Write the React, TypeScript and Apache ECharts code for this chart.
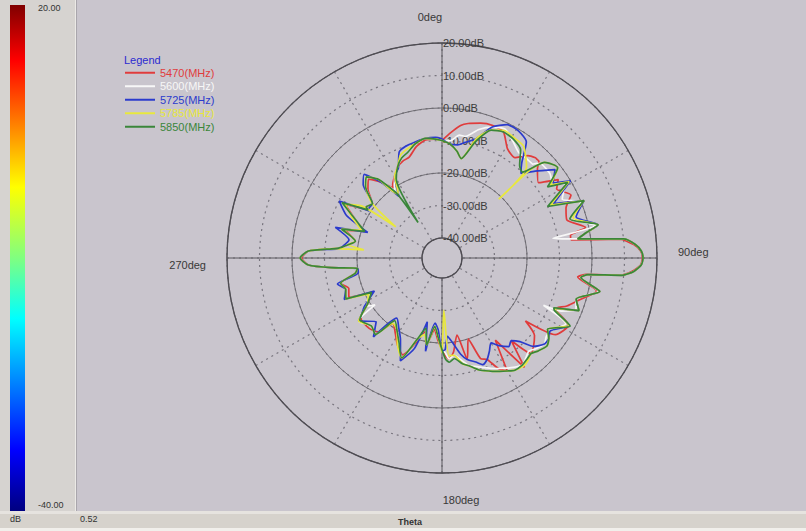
import React, { useEffect, useRef } from 'react';
import * as echarts from 'echarts';

const FONT = 'Liberation Sans, Arial, sans-serif';

// Shared angle vertices (deg, clockwise from top)
const angles = [
  0, 4, 8, 11, 16, 21, 26, 31, 36, 40,
  43, 44, 45, 47, 52, 56, 59, 64, 68, 73,
  78, 80, 82, 84, 86, 88, 90, 92, 94, 95.5,
  96.5, 98, 102, 107, 111, 114, 115, 118, 124, 127,
  130, 134, 137, 140, 143, 147, 150, 153, 156, 159,
  162, 166, 169, 173, 176, 178, 180, 183, 186, 190,
  193, 197, 202, 207, 212, 217, 221, 226, 233, 235,
  238, 244, 247, 252, 256, 260, 263, 265, 267, 270,
  273, 275, 276, 278, 281, 286, 289, 294, 299, 303,
  304, 308, 313, 317, 321, 325, 326, 330, 334, 338,
  342, 347, 352, 357, 360,
];

// Gain values in dB per frequency
const gain5470 = [
  -10, -7.5, -5, -4, -3, -2.5, -3, -7, -8, -5,
  -4, -4, -4, -6, -8.5, -3, -5, -2, -5, -6,
  -1, -6, -6, 9, 13, 15, 15.5, 15, 12.5, 9,
  -1.5, -4, 2.5, -2, -5, -8, -7, -2, -4, -14,
  -9, -7, -6, -13, -4, -16, -6, -8, -12, -13,
  -20, -14, -22, -17, -15, -16, -18, -21, -24, -19,
  -23, -19, -14, -16, -19, -21, -16, -15, -15, -16,
  -19, -22, -15, -16, -14, -19, -20, -12, -5, -3,
  -5, -13, -15, -17, -19, -15, -21, -17, -12, -19,
  -18, -19, -15, -13, -16, -20, -19, -17, -15, -14,
  -13.5, -11, -9.5, -9.5, -10,
];
const gain5600 = [
  -10, -10, -8, -8, -5, -3, -2, -4, -6, -6,
  -6, -6, -5, -4, -4, -5, -2, -5, 0, -4,
  2, -11.5, -4, 10, 13.5, 15.2, 15.7, 15.2, 13, 9.5,
  -1, -3, 3, -3, -2, -6, -11.7, -3, -6, -6,
  -5, -6, -7, -6, -5, -6, -7, -8, -9, -10,
  -11, -12, -14, -16, -15, -17, -18, -22, -25, -18,
  -24, -20, -13, -17, -20, -22, -15, -16, -14, -21,
  -18, -22, -14, -15, -14, -19, -20, -12, -5, -2.5,
  -5, -13, -15, -17, -19, -14, -21, -17, -11, -19,
  -18, -19, -14, -12, -15, -21, -20, -17, -15, -13,
  -12, -10, -9, -9.5, -10,
];
const gain5725 = [
  -9.5, -11, -11, -10, -8, -3, -0.5, -0.5, -2, -8,
  -10.5, -10, -9, -7, -2, -5, 0, -8, 1, -3,
  3, -1, -4, 10, 13.5, 15.2, 15.7, 15.2, 13, 9.5,
  -1, -3, 3.5, -3, -1, -8, -7.5, -2, -6, -5,
  -5, -7, -11, -13, -12, -14, -16, -14, -12, -11,
  -12.5, -14, -16, -20, -22, -18, -17.5, -24, -26, -17,
  -26, -17, -12, -18, -21, -23, -14, -18, -14, -16,
  -18, -23, -13.5, -15, -13, -20, -20, -12, -5, -2.5,
  -5, -14, -15, -16, -17, -12, -22, -14, -10, -19.5,
  -19, -19, -13, -11, -16, -23, -22, -17, -15.5, -11,
  -10, -9.5, -9, -9, -9.5,
];
const gain5785 = [
  -10, -11, -13, -15, -8, -4, -2.5, -3, -3.5, -6,
  -8, -21, -8, -3, -1, -6, -0.5, -9, 1, -4,
  3, -1, -4, 10, 13.5, 15.2, 15.7, 15.2, 13, 9.5,
  -1, -3, 3.5, -3, -1, -8, -7.5, -2, -7, -5,
  -4, -5, -6, -5, -4.5, -5, -6, -7, -8, -9,
  -10, -12, -13, -16, -16, -30, -17, -22, -25, -19,
  -22, -20, -13, -16, -20, -21, -15, -16, -14, -16,
  -19, -21, -14, -15, -14, -19, -20, -12, -5, -2.5,
  -5, -13, -22, -17, -19, -14, -20, -16, -12, -17,
  -29, -19, -14, -12, -15, -22, -22, -17, -15, -12,
  -11, -10, -9, -9.5, -10,
];
const gain5850 = [
  -10, -11, -13, -15, -9, -4, -3, -3.5, -5, -9,
  -10, -9, -7, -3, -1, -7, -1, -10, 1, -5,
  3, -1, -4, 10, 13.5, 15.2, 15.7, 15.2, 13, 9.5,
  -1, -3, 3.5, -3, -1, -8.5, -8, -1.5, -7, -5,
  -4, -5, -6, -5.5, -5, -5, -6, -7, -8, -9,
  -10, -12, -13, -15, -14, -15, -18, -22, -25, -19,
  -24, -20, -13, -17, -20, -22, -15, -16, -14.5, -16,
  -19, -22, -14, -15, -14, -19, -20, -12, -5, -2.5,
  -5, -13, -15, -17, -19, -14, -21, -17, -11, -19,
  -18, -19, -14, -12, -15, -22, -33, -18, -15, -13,
  -12, -10, -9, -9.5, -10,
];

const seriesNames = ['5470(MHz)', '5600(MHz)', '5725(MHz)', '5785(MHz)', '5850(MHz)'];
const seriesColors = ['#e03c3c', '#f7f7f7', '#2b3bcc', '#e8e83c', '#3a863a'];
const seriesGains = [gain5470, gain5600, gain5725, gain5785, gain5850];

const radiusMin = -40;
const radiusMax = 20;
const colorbarLabels = ['20.00', '-40.00'];
const bottomLabels = ['dB', '0.52', 'Theta'];
const angleLabelOffsets: Record<number, number[]> = {
  0: [0, 24, 0, 0],
  90: [0, 0, 12, 0],
  180: [0, 0, 0, 38],
  270: [14, 0, 0, 0],
};

export default function App() {
  const ref = useRef<HTMLDivElement>(null);
  useEffect(() => {
    const chart = echarts.init(ref.current!, null, { renderer: 'svg' });
    const center = [442, 258];
    const radius = [20, 215];
    const dotted = { type: [2, 4], color: '#77747d', width: 1.2 };
    const option: any = {
      animation: false,
      backgroundColor: '#c9c5cd',
      textStyle: { fontFamily: FONT },
      title: {
        text: 'Legend',
        left: 124,
        top: 54,
        padding: 0,
        textStyle: { color: '#2b2bd0', fontSize: 11, fontWeight: 'normal', fontFamily: FONT },
      },
      legend: {
        orient: 'vertical',
        left: 125,
        top: 66,
        padding: 0,
        itemWidth: 30,
        itemHeight: 2,
        itemGap: 0,
        icon: 'rect',
        textStyle: { fontSize: 11, fontFamily: FONT, lineHeight: 13.5 },
        data: seriesNames.map((n, i) => ({ name: n, textStyle: { color: seriesColors[i] } })),
      },
      polar: [
        { center, radius },
        { center, radius },
      ],
      angleAxis: [
        {
          polarIndex: 0,
          type: 'value',
          min: 0,
          max: 360,
          interval: 30,
          startAngle: 90,
          clockwise: true,
          axisLine: { show: false },
          axisTick: { show: false },
          axisLabel: { show: false },
          splitLine: { show: true, lineStyle: dotted },
        },
        {
          polarIndex: 1,
          type: 'value',
          min: 0,
          max: 360,
          interval: 90,
          startAngle: 90,
          clockwise: true,
          axisLine: { show: true, lineStyle: { color: '#4e4c52', width: 1.3 } },
          axisTick: { show: false },
          axisLabel: {
            show: true,
            margin: 21,
            fontSize: 11,
            color: '#383838',
            fontFamily: FONT,
            formatter: (v: number) => (v >= 360 ? '' : `{a${v}|${v}deg}`),
            rich: Object.fromEntries(
              Object.entries(angleLabelOffsets).map(([k, p]) => [
                'a' + k,
                { padding: p, fontSize: 11, color: '#383838', fontFamily: FONT },
              ])
            ),
          },
          splitLine: { show: true, lineStyle: { color: '#58565c', width: 1 } },
        },
      ],
      radiusAxis: [
        {
          polarIndex: 0,
          min: radiusMin,
          max: radiusMax,
          interval: 10,
          axisLine: { show: false },
          axisTick: { show: false },
          axisLabel: {
            show: true,
            showMinLabel: true,
            showMaxLabel: true,
            margin: -1,
            align: 'left',
            fontSize: 11,
            color: '#3c3c3c',
            fontFamily: FONT,
            formatter: (v: number) => `${v.toFixed(2)}dB`,
          },
          splitLine: { show: true, lineStyle: dotted },
        },
        {
          polarIndex: 1,
          min: radiusMin,
          max: radiusMax,
          interval: 20,
          axisLine: { show: false },
          axisTick: { show: false },
          axisLabel: { show: false },
          splitLine: { show: true, lineStyle: { color: '#6e6c72', width: 1 } },
        },
      ],
      series: seriesNames.map((name, i) => ({
        name,
        type: 'line',
        coordinateSystem: 'polar',
        polarIndex: 0,
        symbol: 'none',
        smooth: 0.2,
        z: 5,
        color: seriesColors[i],
        lineStyle: { color: seriesColors[i], width: 1.7 },
        data: angles.map((a, k) => [seriesGains[i][k], a]),
      })),
      graphic: [
        { type: 'rect', shape: { x: 0, y: 0, width: 75, height: 512 }, style: { fill: '#d6d3d0' }, silent: true },
        { type: 'rect', shape: { x: 75, y: 0, width: 1, height: 512 }, style: { fill: '#ebe9e6' }, silent: true },
        { type: 'rect', shape: { x: 76, y: 0, width: 1, height: 512 }, style: { fill: '#a9a6ac' }, silent: true },
        { type: 'rect', shape: { x: 0, y: 512, width: 806, height: 19 }, style: { fill: '#d6d2cc' }, silent: true },
        { type: 'rect', shape: { x: 0, y: 511, width: 806, height: 3 }, style: { fill: '#e6e3df' }, silent: true },
        { type: 'rect', shape: { x: 0, y: 528, width: 806, height: 3 }, style: { fill: '#f1efeb' }, silent: true },
        {
          type: 'rect',
          shape: { x: 10, y: 5, width: 15, height: 506 },
          silent: true,
          style: {
            fill: new echarts.graphic.LinearGradient(0, 0, 0, 1, [
              { offset: 0, color: '#800000' },
              { offset: 0.11, color: '#ff0000' },
              { offset: 0.36, color: '#ffff00' },
              { offset: 0.5, color: '#80ff80' },
              { offset: 0.62, color: '#00ffff' },
              { offset: 0.88, color: '#0000ff' },
              { offset: 1, color: '#000080' },
            ]),
          },
        },
        { type: 'text', x: 38, y: 8, silent: true, style: { text: colorbarLabels[0], fontSize: 9, fill: '#333', fontFamily: FONT, verticalAlign: 'middle' } },
        { type: 'text', x: 38, y: 505, silent: true, style: { text: colorbarLabels[1], fontSize: 9, fill: '#333', fontFamily: FONT, verticalAlign: 'middle' } },
        { type: 'text', x: 10, y: 519, silent: true, style: { text: bottomLabels[0], fontSize: 9, fill: '#333', fontFamily: FONT, verticalAlign: 'middle' } },
        { type: 'text', x: 80, y: 519, silent: true, style: { text: bottomLabels[1], fontSize: 9, fill: '#333', fontFamily: FONT, verticalAlign: 'middle' } },
        { type: 'text', x: 398, y: 522, silent: true, style: { text: bottomLabels[2], fontSize: 9, fontWeight: 'bold', fill: '#333', fontFamily: FONT, verticalAlign: 'middle' } },
      ],
    };
    chart.setOption(option);
    return () => chart.dispose();
  }, []);
  return <div ref={ref} style={{ position: 'fixed', left: 0, top: 0, width: 806, height: 531 }} />;
}
